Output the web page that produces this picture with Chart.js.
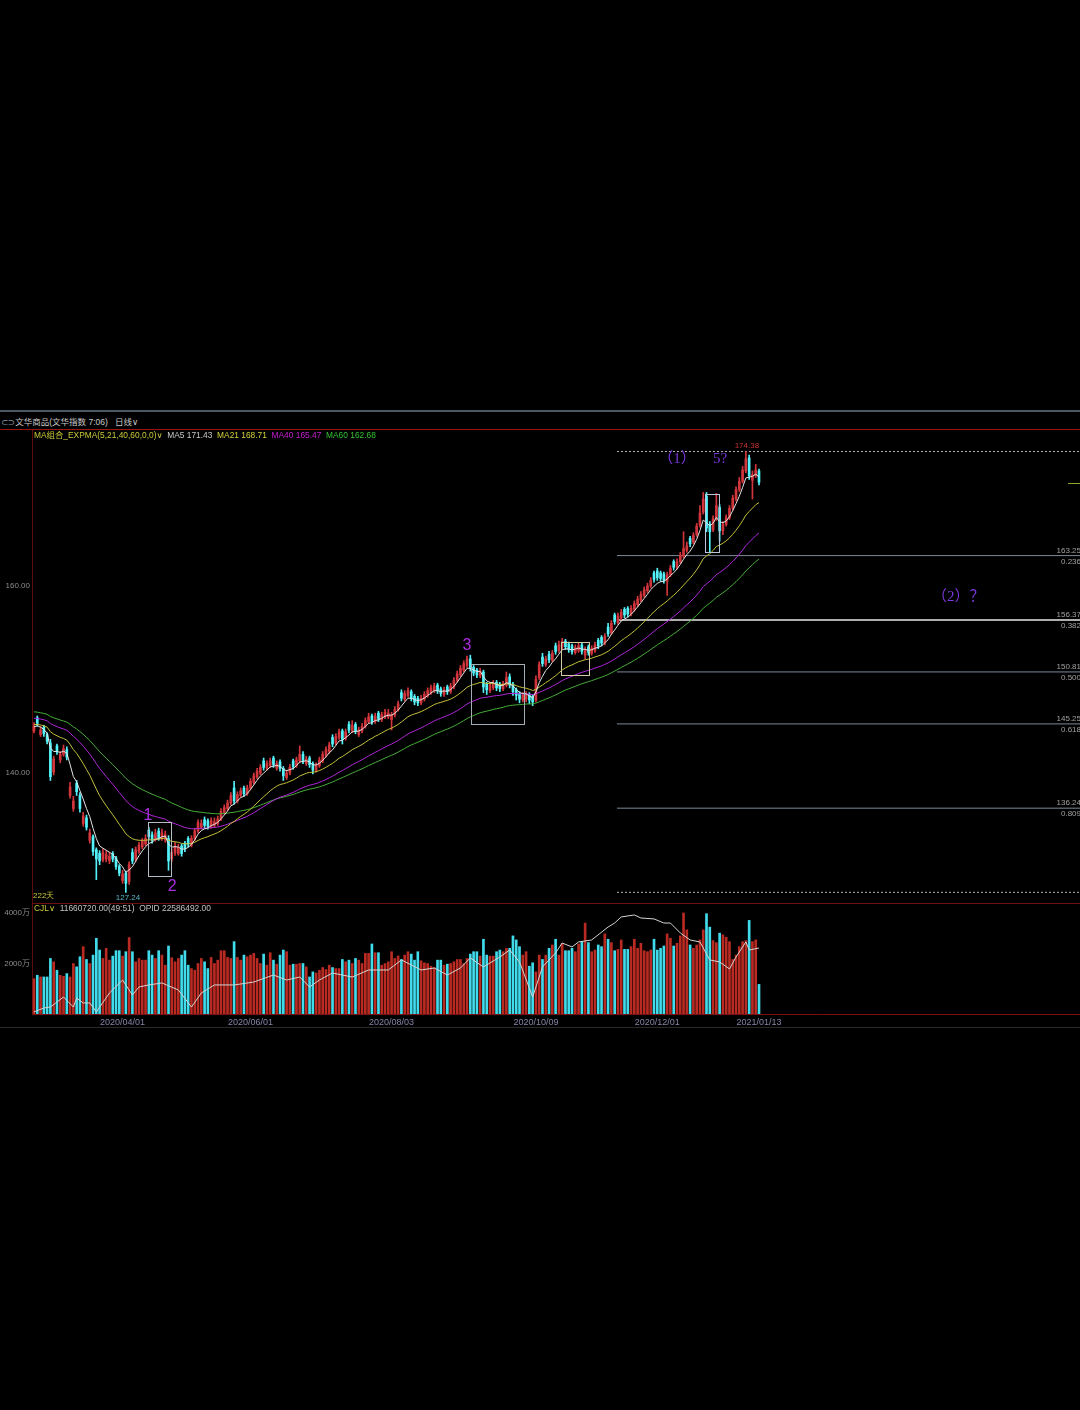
<!DOCTYPE html>
<html>
<head>
<meta charset="utf-8">
<script src="https://cdn.jsdelivr.net/npm/chart.js"></script>
<style>
html, body { margin:0; padding:0; background:#000; width:1080px; height:1410px; overflow:hidden; position:relative; font-family:"Liberation Sans","Noto Sans CJK SC",sans-serif; }
.abs { position:absolute; white-space:pre; }
#mainChart { position:absolute; left:0; top:430px; }
#volChart { position:absolute; left:0; top:903px; }
</style>
</head>
<body>
<div class="abs" style="left:0;top:410px;width:1080px;height:2px;background:#4a5864"></div>
<div class="abs" style="left:1px;top:417px;font-size:8.5px;line-height:11px;color:#c8c8c8"><span style="color:#8a9aa8;font-family:'DejaVu Sans'">⊂⊃</span>文华商品(文华指数 7:06)   日线<span style="font-family:'DejaVu Sans'">∨</span></div>
<canvas id="mainChart" width="1080" height="473"></canvas>
<canvas id="volChart" width="1080" height="127"></canvas>
<div class="abs" style="left:0;top:429px;width:1080px;height:1px;background:#9a1212"></div>
<div class="abs" style="left:34px;top:430px;font-size:8.4px;line-height:11px"><span style="color:#c8c83c">MA组合_EXPMA(5,21,40,60,0,0)<span style="font-family:'DejaVu Sans'">∨</span></span>  <span style="color:#c8c8c8">MA5 171.43</span>  <span style="color:#d2d23c">MA21 168.71</span>  <span style="color:#c81ed2">MA40 165.47</span>  <span style="color:#34c234">MA60 162.68</span></div>
<div class="abs" style="left:34px;top:903px;font-size:8.4px;line-height:11px"><span style="color:#c8c83c">CJL<span style="font-family:'DejaVu Sans'">∨</span></span>  <span style="color:#c0c0c0">11660720.00(49:51)  OPID 22586492.00</span></div>
<div class="abs" style="left:0;top:1027px;width:1080px;height:1px;background:#2a2a2a"></div>
<script>
// daily candles, 222 trading days
var opens = [
144.5,145.9,144.1,144.9,144.1,143.2,140.1,142.9,141.4,142.0,
142.5,137.6,136.2,138.9,137.6,134.6,135.2,132.8,133.2,131.8,
131.4,130.7,130.8,130.6,131.4,130.9,130.0,128.5,129.3,128.4,
131.5,130.8,131.6,132.1,132.4,133.9,133.4,132.9,133.8,133.0,
132.9,133.0,130.8,131.5,131.4,132.2,132.5,133.0,132.3,133.0,
133.8,134.2,135.0,134.9,134.3,134.4,134.6,135.1,135.8,136.2,
136.8,138.4,137.0,137.6,138.4,137.8,138.4,139.0,139.6,140.0,
141.3,140.5,140.8,141.6,140.5,141.2,140.5,139.5,140.0,141.3,
140.8,141.3,142.0,141.0,141.6,141.0,140.3,140.8,141.3,141.9,
142.3,143.8,143.2,143.8,144.5,143.7,145.2,144.5,145.2,144.1,
144.5,145.0,145.5,146.1,145.5,146.4,145.7,146.0,146.0,145.7,
146.2,146.8,148.6,147.9,148.3,148.7,148.2,148.0,147.5,147.9,
148.3,148.6,148.8,149.4,149.0,148.4,149.2,148.7,149.2,149.9,
150.5,151.0,151.5,152.2,151.3,151.0,150.4,150.8,149.5,148.8,
149.1,149.7,149.5,149.0,149.4,150.3,149.5,148.9,148.5,147.8,
147.9,148.4,148.2,147.8,150.2,152.4,151.6,152.7,152.1,153.6,
153.1,153.5,154.1,153.8,153.6,152.9,153.1,153.7,152.6,153.5,
152.8,153.1,154.2,154.5,153.9,155.6,155.0,156.9,156.1,156.6,
157.5,157.6,157.0,157.5,158.0,158.5,159.0,159.5,160.0,161.4,
161.6,161.4,161.3,160.5,161.2,162.6,162.0,162.6,163.2,163.8,
165.1,164.7,165.5,166.5,167.9,169.6,166.6,166.0,167.2,168.4,
165.9,166.6,167.3,168.3,169.3,170.3,171.2,172.3,173.7,171.3,
171.8,172.3];
var highs = [
145.4,146.1,145.0,145.1,144.3,143.6,141.8,143.1,142.3,143.0,
142.8,139.0,137.5,139.2,137.9,135.8,135.5,134.0,133.4,132.0,
131.7,131.9,131.7,131.5,131.6,131.1,130.2,129.6,129.5,130.5,
131.9,132.1,132.6,133.0,133.4,134.2,133.7,134.0,134.1,134.0,
133.8,133.3,131.9,132.6,132.4,132.4,132.7,133.2,133.3,134.1,
135.0,135.0,135.3,135.1,135.2,135.2,135.4,136.2,136.6,137.1,
137.9,139.1,138.0,138.4,138.6,138.7,139.4,140.0,140.5,140.9,
141.6,141.3,141.6,141.8,141.3,141.4,140.7,140.3,140.9,141.5,
141.7,142.9,142.3,141.8,141.8,141.2,141.1,141.7,142.3,142.8,
143.3,144.1,144.2,144.7,144.7,144.7,145.5,145.6,145.4,144.9,
145.3,145.9,146.4,146.3,146.4,146.6,146.5,146.8,146.8,146.5,
147.1,147.7,148.9,148.8,149.1,148.9,148.4,148.2,148.3,148.7,
149.1,149.4,149.6,149.6,149.2,149.2,149.4,149.6,150.2,150.9,
151.5,152.0,152.5,152.6,151.5,151.2,151.2,151.0,149.7,149.7,
149.9,149.9,149.7,149.8,150.8,150.6,149.7,149.1,148.7,148.6,
148.7,148.6,148.4,150.4,151.9,152.8,152.5,153.0,153.1,153.9,
154.1,154.4,154.3,154.0,153.8,153.7,153.9,153.9,153.5,153.7,
153.6,154.0,154.4,154.7,154.9,156.0,156.3,157.1,157.1,157.5,
157.7,157.8,157.9,158.4,158.9,159.4,159.9,160.3,160.9,161.6,
161.9,161.6,161.5,161.5,162.2,162.8,162.9,163.6,165.8,164.7,
165.3,165.7,166.7,168.6,170.0,170.0,166.9,167.5,169.9,168.7,
166.9,167.6,168.6,169.7,170.6,171.6,172.8,174.38,174.0,172.3,
173.0,172.5];
var lows = [
144.3,145.0,143.9,143.9,143.1,139.2,139.8,142.0,141.1,141.8,
141.4,137.3,135.9,137.6,135.8,134.3,133.9,132.5,131.2,128.6,
130.2,130.5,130.5,130.3,130.5,129.7,129.0,128.2,127.24,128.1,
130.3,130.5,131.4,131.9,132.2,132.9,132.5,132.7,132.8,132.8,
132.6,129.6,130.5,131.2,131.2,131.1,131.6,132.1,132.1,132.8,
133.6,134.0,134.1,134.0,134.1,134.2,134.4,134.9,135.6,136.0,
136.6,136.7,136.8,137.4,137.5,137.6,138.2,138.8,139.4,139.8,
140.3,140.3,140.6,140.6,140.3,140.2,139.2,139.3,139.8,140.4,
140.6,141.1,141.0,140.8,140.6,139.9,140.1,140.6,141.1,141.7,
142.1,142.8,143.0,143.6,143.1,143.5,144.3,144.3,144.2,143.9,
144.3,144.8,145.3,145.2,145.3,145.5,145.5,145.8,145.8,144.6,
146.0,146.6,147.7,147.7,148.1,147.7,147.3,147.2,147.3,147.7,
148.1,148.4,148.6,148.5,148.2,148.2,148.4,148.5,149.0,149.7,
150.3,150.8,151.3,150.9,150.4,150.2,150.2,148.6,148.4,148.6,
148.9,148.8,148.7,148.8,149.2,149.1,148.3,147.8,147.5,147.6,
147.6,147.4,147.2,147.6,150.0,151.4,151.4,151.8,151.9,152.7,
152.9,153.3,153.2,152.9,152.7,152.7,152.9,152.7,152.2,152.6,
152.6,152.9,153.3,153.6,153.7,154.6,154.8,155.9,155.9,156.4,
156.6,156.7,156.8,157.3,157.8,158.3,158.8,159.3,159.8,160.4,
160.6,160.5,160.3,159.0,161.0,161.7,161.8,162.4,163.0,163.6,
164.2,164.5,165.3,166.3,167.7,165.8,163.6,165.8,167.0,164.8,
165.5,166.4,167.1,168.1,169.1,170.1,171.0,172.1,171.4,169.3,
171.6,170.8];
var closes = [
145.0,145.3,144.6,144.2,143.4,139.6,141.5,142.3,142.0,142.6,
141.7,138.5,137.0,138.0,136.2,135.4,134.2,133.6,131.6,130.8,
130.6,131.5,131.3,131.1,130.8,130.0,129.3,129.2,128.2,130.2,
130.6,131.8,132.3,132.7,133.0,133.2,132.8,133.6,133.1,133.6,
133.4,130.6,131.5,132.2,132.0,131.4,131.9,132.4,133.0,133.8,
134.7,134.6,134.4,134.3,134.9,134.8,135.1,135.9,136.3,136.8,
137.6,137.0,137.7,138.1,137.8,138.4,139.1,139.7,140.2,140.6,
140.6,141.0,141.3,140.9,141.0,140.5,139.7,140.0,140.6,140.7,
141.4,142.0,141.3,141.5,140.9,140.3,140.8,141.4,142.0,142.5,
143.0,143.1,143.9,144.4,143.6,144.4,144.6,145.1,144.5,144.6,
145.0,145.6,146.0,145.5,146.1,145.8,146.2,146.5,146.4,146.2,
146.8,147.4,148.0,148.5,148.8,148.0,147.6,147.5,148.0,148.4,
148.8,149.1,149.3,148.8,148.5,148.9,148.7,149.3,149.9,150.6,
151.2,151.7,152.2,151.2,150.7,150.5,150.9,149.2,148.9,149.4,
149.6,149.1,149.0,149.5,150.2,149.4,148.7,148.3,147.9,148.3,
148.4,147.8,147.6,150.0,151.6,151.7,152.2,152.1,152.8,153.0,
153.7,154.1,153.5,153.2,153.0,153.4,153.6,153.0,153.2,152.9,
153.3,153.7,153.6,153.9,154.6,154.9,156.0,156.2,156.8,157.2,
156.9,157.0,157.6,158.1,158.6,159.1,159.6,160.0,160.6,160.7,
160.9,160.8,160.6,161.2,161.9,162.0,162.6,163.3,164.0,164.3,
164.5,165.4,166.4,167.8,169.3,166.2,165.8,167.2,168.6,165.9,
166.6,167.3,168.3,169.4,170.3,171.2,172.4,173.6,171.8,171.9,
172.4,171.1];
// volume, in 万
var vols = [
1400,1533,1467,1467,1467,2200,2067,1733,1533,1493,
1600,1467,2000,1867,2267,2667,2160,2000,2333,3000,
2533,2200,2600,2133,2293,2507,2507,2293,2467,3027,
2467,2067,2200,2133,2133,2507,2333,2200,2507,2333,
1933,2693,2227,2067,2200,2333,2507,1933,1800,1733,
2000,2200,2067,1800,2240,2000,2133,2507,2507,2240,
2200,2867,2240,2133,2333,2267,2333,2400,2200,2000,
2373,1933,2427,2133,1973,2333,2533,2467,1933,1973,
1973,2000,2000,1867,1467,1667,1627,1733,1840,1760,
1933,1840,1800,1800,2160,2067,2133,2000,2200,2133,
2000,2400,2400,2773,2427,2427,1933,2000,2067,2467,
2200,2300,
2160,2333,2467,2373,2133,2467,2107,2027,2000,1893,
1840,2133,2133,1933,1973,2000,2067,2160,2160,2000,
2200,2373,2467,2467,2293,2960,2333,2293,2293,2467,
2533,2467,2600,2600,3093,2933,2667,2333,2467,1893,
2027,1667,2333,2160,2333,2600,2733,2960,2333,2800,
2507,2507,2600,2467,2773,2867,3600,2827,2467,2533,
2733,2667,3173,2960,2827,2507,2560,2933,2560,2560,
2667,2960,2600,2800,2507,2467,2533,2960,2533,2600,
2693,3173,3000,2693,2800,3093,4000,3333,2733,2600,
2733,2933,3333,3973,3440,2907,2827,3200,3133,3040,
2867,2160,2333,2667,2867,2907,3707,2867,2933,1173];
// open interest read at these days, in 万
var opidIdx = [0,3,5,9,12,13,15,17,19,23,27,30,32,35,39,44,48,51,55,61,67,73,77,81,84,87,91,97,102,108,
  112,118,122,126,130,133,137,142,145,148,152,155,159,161,164,166,170,175,177,179,183,185,189,192,194,197,200,203,206,209,212,214,217,218,221];
var opidVals = [1709,1743,1751,1837,1751,1828,1786,1786,1709,1871,1982,1854,1923,1940,1957,1897,1751,1871,1940,1940,1965,2025,1982,2008,1923,1982,2042,2008,2068,2068,
  2154,2068,2085,2025,2085,2171,2094,2179,2239,2137,1837,2094,2214,2299,2265,2308,2325,2436,2470,2522,2539,2513,2505,2470,2470,2385,2325,2308,2154,2137,2077,2179,2308,2239,2256];

var dateIdx = [27, 66, 109, 153, 190, 221];
var dateLabels = ['2020/04/01', '2020/06/01', '2020/08/03', '2020/10/09', '2020/12/01', '2021/01/13'];
var priceTicks = [140, 160];
var volTicks = [2000, 4000];

var emaPeriods = [5, 21, 40, 60];
var emaSeeds = [144.9, 145.2, 145.9, 146.6];   // carried in from before the window

var fibVals = [163.25, 156.37, 150.81, 145.25, 136.24];
var fibRatios = ['0.236', '0.382', '0.500', '0.618', '0.809'];
var swingHigh = 174.38, swingLow = 127.24;

var RED = '#d2363c', CYAN = '#54f2fa';
var VRED = '#b92a22', VCYAN = '#40dcec';
var maColors = ['#e4e4e4', '#c2c23a', '#b026dc', '#46ae38'];
var X_MIN = -0.61, X_MAX = 318.85, FIB_X0 = 177.7;

var idx = closes.map(function (c, i) { return i; });
function isUp(i) { return closes[i] >= opens[i]; }

function expma(n, seed) {
    var a = 2 / (n + 1), e = seed;
    return closes.map(function (c) { e = e + a * (c - e); return e; });
}

var datasets = [];
fibVals.forEach(function (v, k) {
    datasets.push({
        type: 'line', data: [{ x: FIB_X0, y: v }, { x: X_MAX, y: v }],
        borderColor: k == 1 ? '#e8e8e8' : '#7c8a96', borderWidth: k == 1 ? 1.5 : 1,
        pointRadius: 0, order: 30
    });
});
[swingHigh, swingLow].forEach(function (v) {
    datasets.push({
        type: 'line', data: [{ x: FIB_X0, y: v }, { x: X_MAX, y: v }],
        borderColor: '#b4b4b4', borderWidth: 1, borderDash: [2, 2],
        pointRadius: 0, order: 30
    });
});
datasets.push({
    type: 'bar', data: idx.map(function (i) { return { x: i, y: [lows[i], highs[i]] }; }),
    backgroundColor: idx.map(function (i) { return isUp(i) ? RED : CYAN; }),
    barThickness: 1, grouped: false, order: 20
});
datasets.push({
    type: 'bar', data: idx.map(function (i) { return { x: i, y: [opens[i], closes[i]] }; }),
    backgroundColor: idx.map(function (i) { return isUp(i) ? RED : CYAN; }),
    barThickness: 2, grouped: false, order: 19
});
emaPeriods.forEach(function (n, k) {
    var line = expma(n, emaSeeds[k]);
    datasets.push({
        type: 'line', data: idx.map(function (i) { return { x: i, y: line[i] }; }),
        borderColor: maColors[k], borderWidth: 1, pointRadius: 0, order: 1 + k
    });
});

// boxes and marks drawn by hand on the picture
var boxes = [
    [34.6, 41.9, 134.8, 129.0, '#b4bcc4'],
    [133.3, 149.5, 151.66, 145.24, '#a4acb4'],
    [160.6, 169.1, 154.0, 150.5, '#d4cca4'],
    [204.6, 208.9, 169.84, 163.64, '#b8c4d8']
];
var waveLabels = [
    ['1', 34.75, 135.5, '16px "Liberation Sans"', '#a82ee0'],
    ['2', 42.1, 127.9, '16px "Liberation Sans"', '#a82ee0'],
    ['3', 132.0, 153.6, '16px "Liberation Sans"', '#a82ee0'],
    ['（1）', 196.0, 173.58, '15px "Liberation Serif","Noto Sans CJK SC"', '#7a36d8'],
    ['5?', 209.1, 173.58, '15px "Liberation Serif"', '#7a36d8'],
    ['（2）？', 281.7, 158.82, '15px "Liberation Serif","Noto Sans CJK SC"', '#7a36d8']
];

var overlay = {
    id: 'overlay',
    afterDatasetsDraw: function (chart) {
        var ctx = chart.ctx, x = chart.scales.x, y = chart.scales.y, area = chart.chartArea;
        ctx.save();
        boxes.forEach(function (b) {
            var x0 = Math.round(x.getPixelForValue(b[0])) + 0.5, x1 = Math.round(x.getPixelForValue(b[1])) + 0.5;
            var y0 = Math.round(y.getPixelForValue(b[2])) + 0.5, y1 = Math.round(y.getPixelForValue(b[3])) + 0.5;
            ctx.strokeStyle = b[4]; ctx.lineWidth = 1;
            ctx.strokeRect(x0, y0, x1 - x0, y1 - y0);
        });
        ctx.textAlign = 'center'; ctx.textBaseline = 'middle';
        waveLabels.forEach(function (w) {
            ctx.font = w[3]; ctx.fillStyle = w[4];
            ctx.fillText(w[0], x.getPixelForValue(w[1]), y.getPixelForValue(w[2]));
        });
        ctx.font = '8px "Liberation Sans"';
        ctx.fillStyle = '#c83232';
        ctx.fillText(swingHigh.toFixed(2), x.getPixelForValue(217.3), y.getPixelForValue(swingHigh) - 6);
        ctx.fillStyle = '#5ab4c8';
        ctx.fillText(swingLow.toFixed(2), x.getPixelForValue(28.65), y.getPixelForValue(126.63));
        ctx.textAlign = 'left'; ctx.fillStyle = '#c8c83c';
        ctx.fillText('222天', area.left + 1, area.bottom - 7);
        ctx.textAlign = 'right'; ctx.fillStyle = '#a0a0a0';
        fibVals.forEach(function (v, k) {
            var py = y.getPixelForValue(v);
            ctx.fillText(v.toFixed(2), area.right + 1, py - 5);
            ctx.fillText(fibRatios[k], area.right + 1, py + 6);
        });
        // current price marker at the right edge
        var pm = Math.round(y.getPixelForValue(171.0)) + 0.5;
        ctx.strokeStyle = '#8aa832'; ctx.beginPath();
        ctx.moveTo(area.right - 12, pm); ctx.lineTo(area.right, pm); ctx.stroke();
        ctx.restore();
    }
};

var tickFont = { size: 8, family: 'Liberation Sans, Noto Sans CJK SC' };

function leftAxisFit(s) {
    s.width = 32;
    s.paddingTop = 0;
    s.paddingBottom = 0;
}

new Chart(document.getElementById('mainChart'), {
    type: 'bar',
    data: { datasets: datasets },
    options: {
        responsive: false, animation: false, events: [],
        layout: { padding: 0 },
        plugins: { legend: { display: false }, tooltip: { enabled: false } },
        scales: {
            x: { type: 'linear', min: X_MIN, max: X_MAX, offset: false, display: false },
            y: {
                position: 'left', min: 126.10, max: 176.68,
                grid: { display: false, drawTicks: false },
                border: { color: '#5e0c0c' },
                ticks: { color: '#8c8c8c', font: tickFont, padding: 2, callback: function (v) { return v.toFixed(2); } },
                afterBuildTicks: function (s) { s.ticks = priceTicks.map(function (v) { return { value: v }; }); },
                afterFit: leftAxisFit
            }
        }
    },
    plugins: [overlay]
});

var volTop = {
    id: 'volTop',
    afterDraw: function (chart) {
        var ctx = chart.ctx, a = chart.chartArea;
        ctx.save();
        ctx.strokeStyle = '#6e1010'; ctx.lineWidth = 1;
        ctx.beginPath(); ctx.moveTo(a.left, 0.5); ctx.lineTo(a.right, 0.5); ctx.stroke();
        ctx.restore();
    }
};

new Chart(document.getElementById('volChart'), {
    type: 'bar',
    data: {
        datasets: [{
            type: 'line',
            data: opidIdx.map(function (d, k) { return { x: d, y: opidVals[k] }; }),
            yAxisID: 'yo', borderColor: '#d4d4d4', borderWidth: 1, pointRadius: 0, order: 1
        }, {
            type: 'bar',
            data: idx.map(function (i) { return { x: i, y: vols[i] }; }),
            backgroundColor: idx.map(function (i) { return isUp(i) ? VRED : VCYAN; }),
            barThickness: 2, grouped: false, order: 2
        }]
    },
    options: {
        responsive: false, animation: false, events: [],
        layout: { padding: 0 },
        plugins: { legend: { display: false }, tooltip: { enabled: false } },
        scales: {
            x: {
                type: 'linear', min: X_MIN, max: X_MAX, offset: false,
                grid: { display: false, drawTicks: false },
                border: { color: '#7a1010' },
                ticks: {
                    color: '#8484a8', font: { size: 9, family: 'Liberation Sans' }, padding: 3,
                    autoSkip: false, maxRotation: 0,
                    callback: function (v, i) { return dateLabels[i]; }
                },
                afterBuildTicks: function (s) { s.ticks = dateIdx.map(function (v) { return { value: v }; }); },
                afterFit: function (s) { s.height = 16; s.paddingLeft = 0; s.paddingRight = 0; }
            },
            y: {
                position: 'left', min: 0, max: 4396,
                grid: { display: false, drawTicks: false },
                border: { color: '#5e0c0c' },
                ticks: { color: '#8c8c8c', font: tickFont, padding: 2, callback: function (v) { return v + '万'; } },
                afterBuildTicks: function (s) { s.ticks = volTicks.map(function (v) { return { value: v }; }); },
                afterFit: leftAxisFit
            },
            yo: { display: false, min: 1691.4, max: 2641.4 }
        }
    },
    plugins: [volTop]
});
</script>
</body>
</html>
